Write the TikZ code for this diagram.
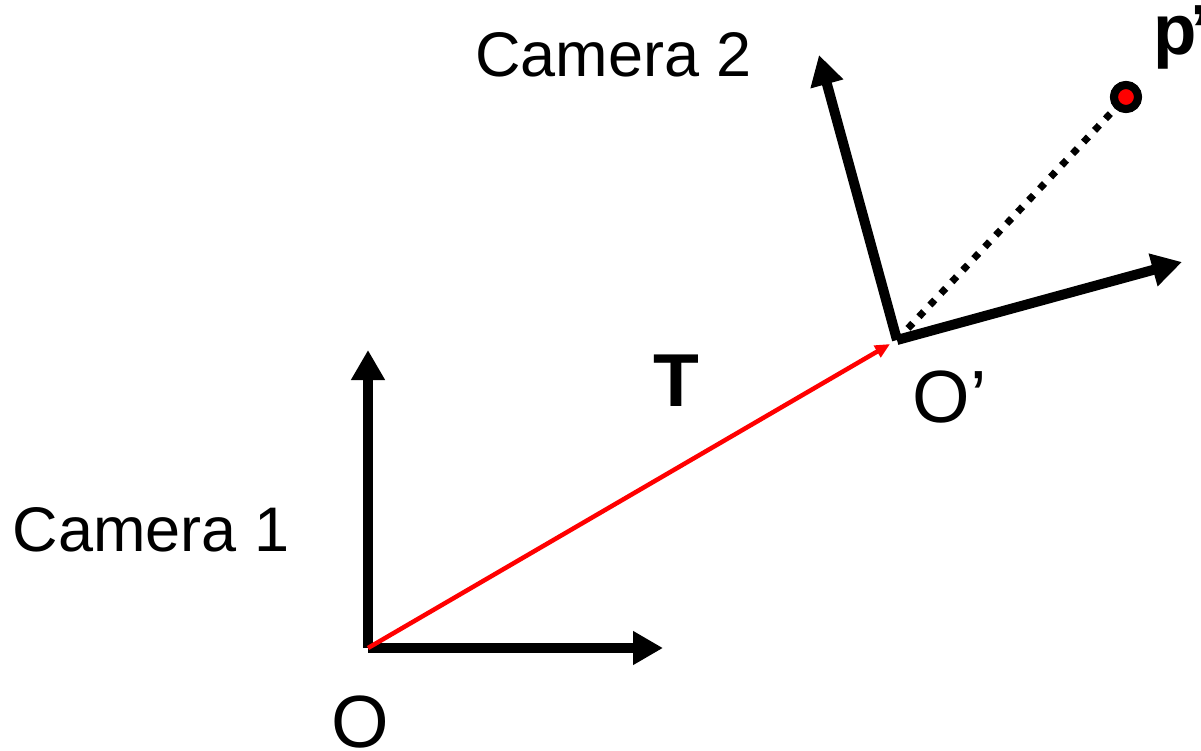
\documentclass[tikz,border=0pt]{standalone}
\usepackage{fontspec}
\setmainfont{Liberation Sans}
\usetikzlibrary{arrows.meta}
\begin{document}
\begin{tikzpicture}[x=1pt,y=-1pt,
  axis/.style={line width=10pt,-{Triangle[length=30pt,width=32pt]}},
  tvec/.style={draw=red,line width=4.5pt,-{Triangle[length=15pt,width=13pt]},shorten >=8pt},
  ray/.style={line width=7pt,dash pattern=on 7pt off 9pt},
  pt/.style={circle,draw=black,fill=red,line width=8pt,minimum size=24pt,inner sep=0pt},
  lbl/.style={inner sep=0pt,font=\fontsize{63}{70}\selectfont},
  olbl/.style={inner sep=0pt,font=\fontsize{74}{80}\selectfont},
  blbl/.style={inner sep=0pt,font=\fontsize{75}{80}\selectfont\bfseries},
  plbl/.style={inner sep=0pt,font=\fontsize{71}{80}\selectfont\bfseries}]
\useasboundingbox (0,0) rectangle (1201,750);
\coordinate (O) at (368,648);
\coordinate (Op) at (897,340);
\coordinate (x1) at (663,648);
\coordinate (y1) at (368,350);
\coordinate (x2) at (1182,262);
\coordinate (y2) at (819,55);
\node[pt] (P) at (1126,97) {};
\draw[ray] (Op) -- (P);
\draw[axis] (O) -- (x1);
\draw[axis] (O) -- (y1);
\draw[axis] (Op) -- (x2);
\draw[axis] (Op) -- (y2);
\draw[tvec] (O) -- (Op);
\node[pt] at (P) {};
\node[lbl] (cam2) at (613.5,54.5) {Camera 2};
\node[lbl] (cam1) at (151,530) {Camera 1};
\node[olbl,anchor=base west] (Olab) at (331.5,747) {O};
\node[olbl,anchor=base west] (Oplab) at (912.5,422) {O’};
\node[blbl] (Tlab) at (676,381) {T};
\node[plbl,anchor=base west] (plab) at (1153,54) {p\kern-6pt’};
\end{tikzpicture}
\end{document}
